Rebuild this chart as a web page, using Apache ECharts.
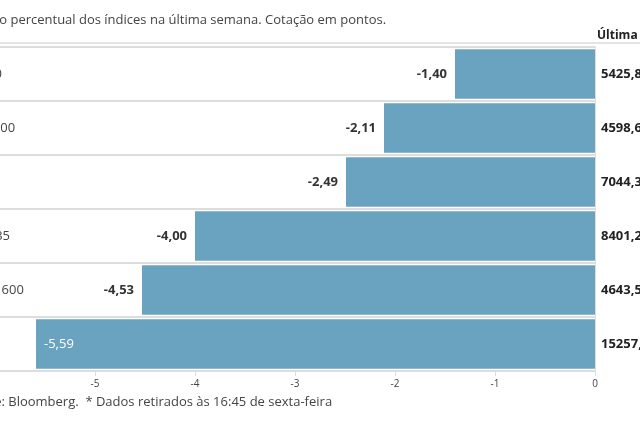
<!DOCTYPE html><html><head><meta charset="utf-8"><script src="https://cdn.jsdelivr.net/npm/echarts@6/dist/echarts.min.js"></script></head><body style="margin:0"><div id="c" style="width:640px;height:426px"></div><script>
const categories=["PSI 20","S&P 500","DAX","IBEX 35","Stoxx 600","SMI"];
const changes=[-1.40,-2.11,-2.49,-4.00,-4.53,-5.59];
const lastQuotes=["5425,8","4598,6","7044,3","8401,2","4643,5","15257,9"];
const xTicks=[-6,-5,-4,-3,-2,-1,0];
const F="'Liberation Sans Narrow','Open Sans','Noto Sans',sans-serif";
const ch=echarts.init(document.getElementById('c'));
ch.setOption({animation:false,
grid:{left:-5,right:45,top:47,bottom:55,containLabel:false,outerBoundsMode:'none'},
xAxis:{type:'value',min:-6,max:0,interval:1,
 axisLine:{show:true,lineStyle:{color:'#ddd',width:2}},
 axisTick:{show:true,length:5,lineStyle:{color:'#ddd'}},
 splitLine:{show:false},
 axisLabel:{color:'#444',fontSize:10,fontFamily:F,formatter:v=>String(v)}},
yAxis:[{type:'category',data:categories,inverse:true,
 axisLine:{show:true,lineStyle:{color:'#ddd'}},axisTick:{show:false},
 splitLine:{show:true,lineStyle:{color:'#ddd',width:2}},
 axisLabel:{align:'left',margin:30,color:'#444',fontSize:13,fontFamily:F}},
 {type:'category',data:lastQuotes,inverse:true,position:'right',
 axisLine:{show:true,onZero:false,lineStyle:{color:'#ddd'}},axisTick:{show:false},
 axisLabel:{align:'left',margin:6,color:'#222',fontWeight:'bold',fontSize:13,fontFamily:F}}],
series:[{type:'bar',data:changes.map((v,i)=>({value:v,label:i===5?{position:'insideLeft',color:'#fff',fontWeight:'normal'}:{}})),
 barCategoryGap:'8%',itemStyle:{color:'#6aa3c0'},
 label:{show:true,position:'left',distance:8,color:'#333',fontWeight:'bold',fontSize:13,fontFamily:F,
 formatter:p=>p.value.toFixed(2).replace('.',',')}}],
graphic:[
 {type:'text',left:-45,top:14,style:{text:'Variação percentual dos índices na última semana. Cotação em pontos.',fill:'#444',fontSize:13,fontFamily:F}},
 {type:'text',left:597,top:30,style:{text:'Última cotação',fill:'#222',fontWeight:'bold',fontSize:12,fontFamily:F}},
 {type:'rect',left:0,top:42,shape:{width:640,height:2},style:{fill:'#e4e4e4'}},
 {type:'text',left:-33,top:396,style:{text:'Fonte: Bloomberg.  * Dados retirados às 16:45 de sexta-feira',fill:'#444',fontSize:13,fontFamily:F}}
]});
</script></body></html>
